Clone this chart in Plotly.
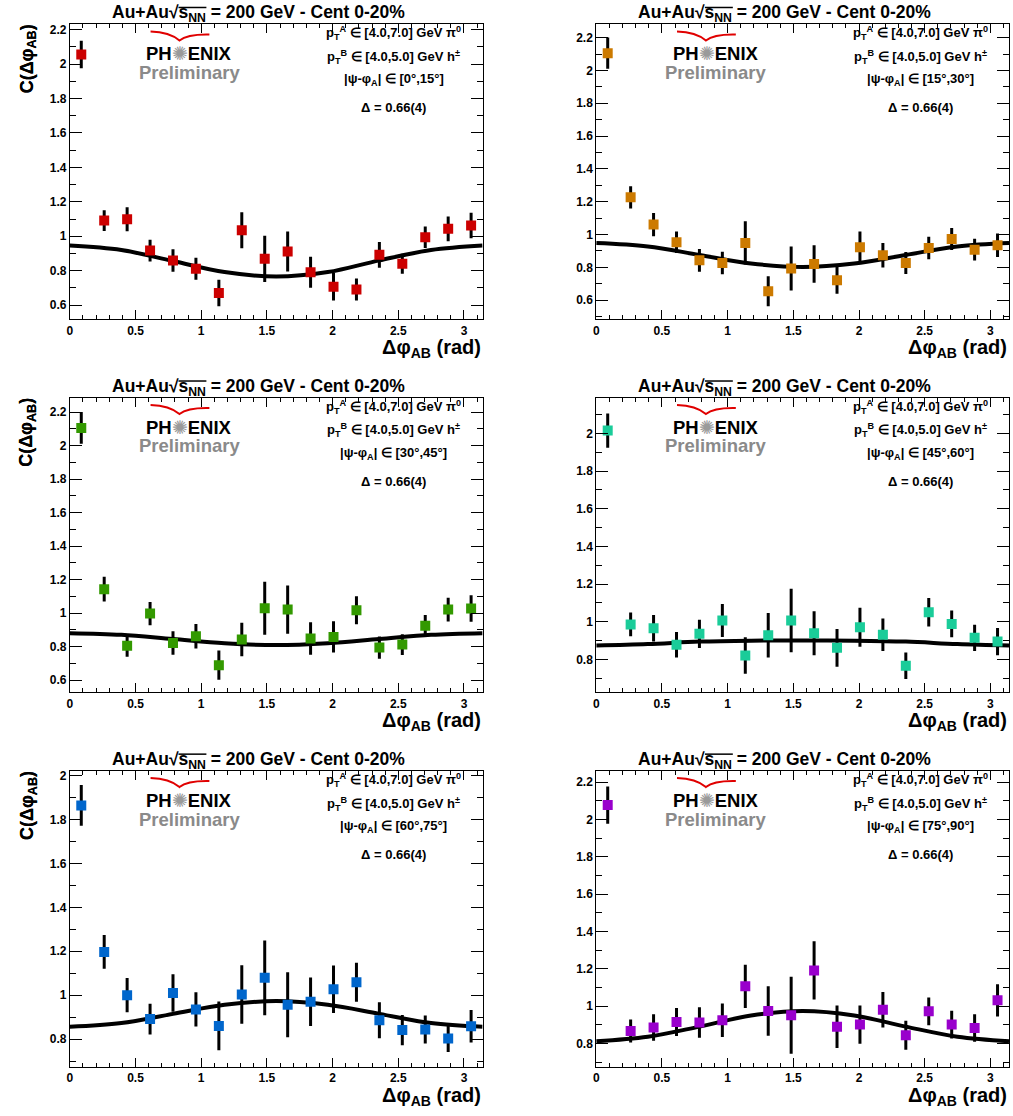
import plotly.graph_objects as go

W, H = 1013, 1116

# ---------------- data ----------------
x_centers = [0.0873, 0.2618, 0.4363, 0.6109, 0.7854, 0.9599, 1.1345, 1.3090, 1.4835,
             1.6581, 1.8326, 2.0071, 2.1817, 2.3562, 2.5307, 2.7053, 2.8798, 3.0543]

angle_bins = ["[0°,15°]", "[15°,30°]", "[30°,45°]", "[45°,60°]", "[60°,75°]", "[75°,90°]"]
colors = ["#cc0000", "#cc7a00", "#339900", "#1acc99", "#0066cc", "#9900cc"]

y_0_15 = [2.055, 1.091, 1.099, 0.917, 0.859, 0.811, 0.670, 1.035, 0.869,
          0.911, 0.791, 0.707, 0.691, 0.892, 0.840, 0.994, 1.043, 1.062]
e_0_15 = [0.080, 0.060, 0.070, 0.063, 0.065, 0.064, 0.077, 0.105, 0.134,
          0.116, 0.090, 0.080, 0.064, 0.075, 0.058, 0.062, 0.072, 0.074]

y_15_30 = [2.105, 1.227, 1.061, 0.953, 0.843, 0.827, 0.949, 0.655, 0.793,
           0.821, 0.722, 0.923, 0.874, 0.827, 0.918, 0.973, 0.908, 0.935]
e_15_30 = [0.095, 0.068, 0.071, 0.066, 0.069, 0.069, 0.132, 0.091, 0.134,
           0.114, 0.082, 0.096, 0.074, 0.067, 0.068, 0.067, 0.066, 0.071]

y_30_45 = [2.106, 1.143, 0.805, 0.997, 0.822, 0.862, 0.689, 0.842, 1.029,
           1.021, 0.848, 0.858, 1.017, 0.794, 0.812, 0.924, 1.021, 1.027]
e_30_45 = [0.095, 0.074, 0.066, 0.070, 0.070, 0.073, 0.087, 0.100, 0.159,
           0.144, 0.097, 0.093, 0.083, 0.067, 0.062, 0.064, 0.071, 0.079]

y_45_60 = [2.015, 0.986, 0.966, 0.878, 0.936, 1.007, 0.821, 0.929, 1.007,
           0.939, 0.862, 0.971, 0.931, 0.767, 1.051, 0.989, 0.915, 0.895]
e_45_60 = [0.091, 0.063, 0.070, 0.068, 0.075, 0.087, 0.097, 0.118, 0.168,
           0.117, 0.100, 0.103, 0.086, 0.070, 0.076, 0.071, 0.070, 0.072]

y_60_75 = [1.864, 1.197, 1.000, 0.891, 1.010, 0.935, 0.860, 1.003, 1.079,
           0.956, 0.970, 1.027, 1.059, 0.886, 0.841, 0.844, 0.803, 0.859]
e_60_75 = [0.093, 0.077, 0.078, 0.070, 0.085, 0.078, 0.111, 0.133, 0.170,
           0.148, 0.110, 0.108, 0.089, 0.082, 0.069, 0.064, 0.062, 0.074]

y_75_90 = [2.077, 0.867, 0.885, 0.915, 0.912, 0.924, 1.106, 0.974, 0.951,
           1.191, 0.889, 0.901, 0.981, 0.844, 0.972, 0.901, 0.883, 1.031]
e_75_90 = [0.100, 0.062, 0.071, 0.075, 0.082, 0.090, 0.116, 0.133, 0.206,
           0.156, 0.114, 0.102, 0.095, 0.078, 0.074, 0.074, 0.074, 0.086]

# fit curves read at a few points
fit_x = [0.0, 0.3927, 0.7854, 1.1781, 1.5708, 1.9635, 2.3562, 2.7489, 3.1416]
fit_0_15 = [0.946, 0.920, 0.856, 0.792, 0.766, 0.792, 0.860, 0.920, 0.946]
fit_15_30 = [0.949, 0.928, 0.876, 0.824, 0.803, 0.824, 0.876, 0.928, 0.949]
fit_30_45 = [0.880, 0.870, 0.845, 0.820, 0.809, 0.820, 0.845, 0.870, 0.880]
fit_45_60 = [0.874, 0.882, 0.895, 0.900, 0.901, 0.900, 0.895, 0.882, 0.874]
fit_60_75 = [0.856, 0.873, 0.915, 0.956, 0.973, 0.956, 0.915, 0.873, 0.856]
fit_75_90 = [0.812, 0.836, 0.890, 0.950, 0.974, 0.950, 0.890, 0.836, 0.812]

y_ranges = [[0.517, 2.23], [0.483, 2.28], [0.526, 2.285],
            [0.625, 2.188], [0.674, 2.02], [0.675, 2.259]]
y_tickvals = [[0.6, 0.8, 1.0, 1.2, 1.4, 1.6, 1.8, 2.0, 2.2]] * 3 + \
             [[0.8, 1.0, 1.2, 1.4, 1.6, 1.8, 2.0],
              [0.8, 1.0, 1.2, 1.4, 1.6, 1.8, 2.0],
              [0.8, 1.0, 1.2, 1.4, 1.6, 1.8, 2.0, 2.2]]
x_tickvals = [0, 0.5, 1, 1.5, 2, 2.5, 3]
x_ticktext = ["0", "0.5", "1", "1.5", "2", "2.5", "3"]

ys = [y_0_15, y_15_30, y_30_45, y_45_60, y_60_75, y_75_90]
es = [e_0_15, e_15_30, e_30_45, e_45_60, e_60_75, e_75_90]
fits = [fit_0_15, fit_15_30, fit_30_45, fit_45_60, fit_60_75, fit_75_90]

# ---------------- layout geometry (pixels) ----------------
col_left = [67, 595]
col_right = [481, 1009]
row_top = [22.5, 396.7, 770.5]
row_bot = [318, 691.7, 1066.7]


def fx(p):
    return p / W


def fy(p):
    return 1 - p / H


FONT = "Liberation Sans, Arial, Helvetica, sans-serif"

fig = go.Figure()
annotations = []
shapes = []

for i in range(6):
    r, c = divmod(i, 2)
    L, R, T, B = col_left[c], col_right[c], row_top[r], row_bot[r]
    k = "" if i == 0 else str(i + 1)
    xa, ya = "x" + k, "y" + k

    fig.add_trace(go.Scatter(
        x=fit_x, y=fits[i], mode="lines", line=dict(color="black", width=4, shape="spline"),
        xaxis=xa, yaxis=ya, hoverinfo="skip"))
    fig.add_trace(go.Scatter(
        x=x_centers, y=ys[i], mode="markers",
        marker=dict(symbol="square", size=10, color=colors[i], line=dict(width=0)),
        error_y=dict(type="data", array=es[i], color="black", thickness=3, width=0),
        xaxis=xa, yaxis=ya))

    axcommon = dict(showline=True, linecolor="black", linewidth=1, mirror="allticks",
                    ticks="inside", tickcolor="black", showgrid=False, zeroline=False,
                    tickfont=dict(family=FONT, size=12, color="black", weight="bold"))
    fig.layout["xaxis" + k] = dict(
        domain=[fx(L), fx(R)], range=[0, 3.1416], anchor=ya,
        tickvals=x_tickvals, ticktext=x_ticktext, ticklen=9,
        minor=dict(ticks="inside", ticklen=4, dtick=0.1, tick0=0, tickcolor="black", showgrid=False),
        **axcommon)
    fig.layout["yaxis" + k] = dict(
        domain=[fy(B), fy(T)], range=y_ranges[i], anchor=xa,
        tickvals=y_tickvals[i], ticktext=[("%g" % v) for v in y_tickvals[i]], ticklen=12,
        minor=dict(ticks="inside", ticklen=6, dtick=0.1, tick0=0, tickcolor="black", showgrid=False),
        **axcommon)

    # title
    tc = L + 189
    annotations.append(dict(
        xref="paper", yref="paper", x=fx(tc), y=fy(T - 11), xanchor="center", yanchor="middle",
        text="<b>Au+Au√s<sub>NN</sub> = 200 GeV - Cent 0-20%</b>", showarrow=False,
        font=dict(family=FONT, size=17.5, color="black")))
    shapes.append(dict(type="line", xref="paper", yref="paper",
                       x0=fx(tc - 80), x1=fx(tc - 52), y0=fy(T - 17), y1=fy(T - 17),
                       line=dict(color="black", width=1.5)))
    # y title
    annotations.append(dict(
        xref="paper", yref="paper", x=fx(25), y=fy(T + 34),
        xanchor="center", yanchor="middle", textangle=-90,
        text="<b>C(Δφ<sub>AB</sub>)</b>", showarrow=False,
        font=dict(family=FONT, size=18, color="black")))
    # x title
    annotations.append(dict(
        xref="paper", yref="paper", x=fx(R), y=fy(B + 15), xanchor="right", yanchor="top",
        text="<b>Δφ<sub>AB</sub> (rad)</b>", showarrow=False,
        font=dict(family=FONT, size=20, color="black")))
    # PHENIX logo
    annotations.append(dict(
        xref="paper", yref="paper", x=fx(L + 120), y=fy(T + 29.5), xanchor="center", yanchor="middle",
        text="<b>PH</b><span style='color:#9a9a9a'>✺</span><b>ENIX</b>", showarrow=False,
        font=dict(family=FONT, size=18.5, color="black")))
    annotations.append(dict(
        xref="paper", yref="paper", x=fx(L + 120), y=fy(T + 48), xanchor="center", yanchor="middle",
        text="<b>Preliminary</b>", showarrow=False,
        font=dict(family=FONT, size=18.5, color="#8a8a8a")))
    # swoosh
    shapes.append(dict(
        type="path", xref="paper", yref="paper",
        path="M %f,%f Q %f,%f %f,%f Q %f,%f %f,%f" % (
            fx(L + 81), fy(T + 7.0), fx(L + 100), fy(T + 7.5), fx(L + 110), fy(T + 16.0),
            fx(L + 118), fy(T + 9.5), fx(L + 140), fy(T + 10)),
        line=dict(color="#e00000", width=2)))
    # info text
    cx = L + 325
    info = [("<b>p<sub>T</sub><sup>A</sup> ∈ [4.0,7.0] GeV π<sup>0</sup></b>", 9),
            ("<b>p<sub>T</sub><sup>B</sup> ∈ [4.0,5.0] GeV h<sup>±</sup></b>", 32.5),
            ("<b>|ψ-φ<sub>A</sub>| ∈ " + angle_bins[i] + "</b>", 55.5),
            ("<b>Δ = 0.66(4)</b>", 83.5)]
    for txt, dy in info:
        annotations.append(dict(
            xref="paper", yref="paper", x=fx(cx), y=fy(T + dy), xanchor="center", yanchor="middle",
            text=txt, showarrow=False, font=dict(family=FONT, size=13, color="black")))

fig.update_layout(
    width=W, height=H, margin=dict(l=0, r=0, t=0, b=0),
    paper_bgcolor="white", plot_bgcolor="white", showlegend=False,
    annotations=annotations, shapes=shapes,
    font=dict(family=FONT, color="black"))

fig.write_html("out.html", config={"displayModeBar": False},
               post_script="document.body.style.margin='0px';document.body.style.overflow='hidden';")
